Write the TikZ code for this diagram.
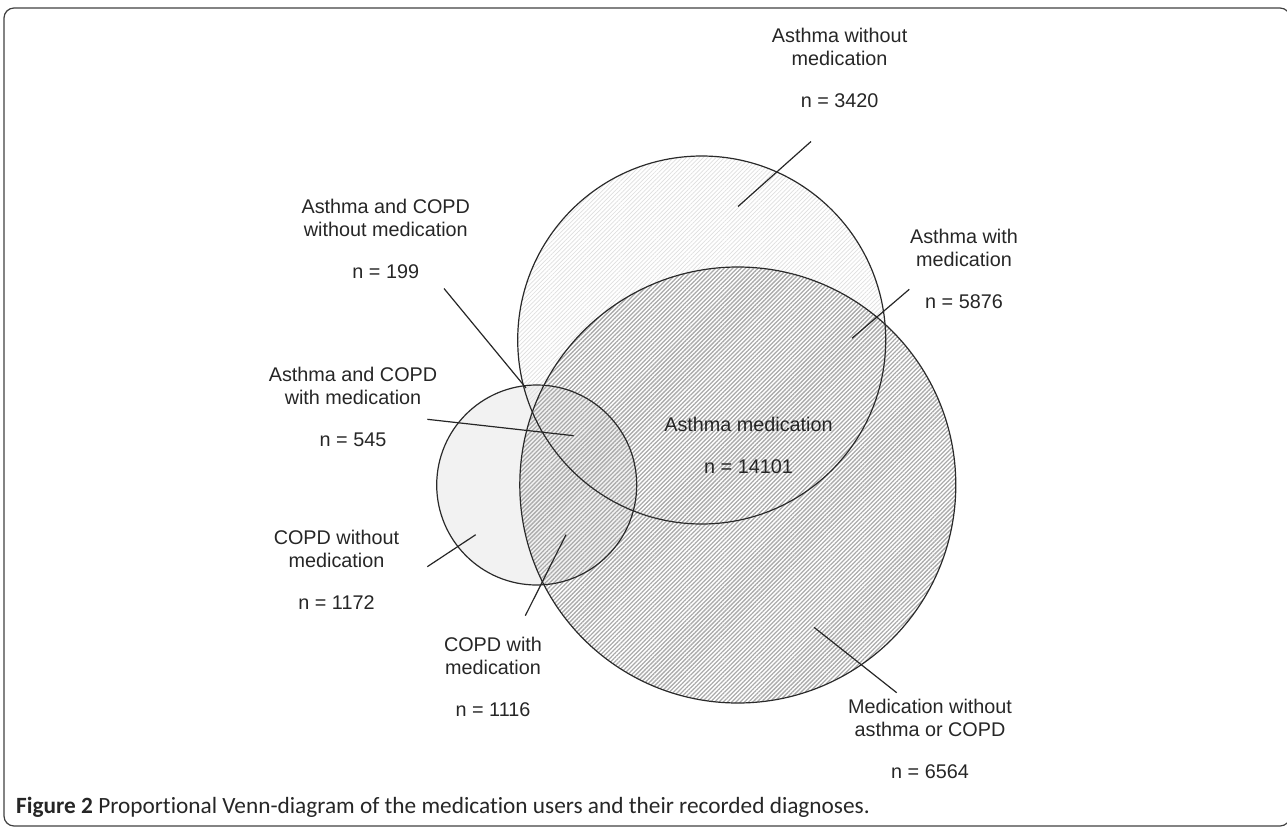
\documentclass[tikz,border=0pt]{standalone}
\usepackage{fontspec}
\setmainfont{Liberation Sans}
\newfontfamily\capfont[Ligatures={NoCommon}]{Carlito}
\usetikzlibrary{patterns.meta,backgrounds}
\definecolor{txt}{HTML}{262626}
\definecolor{outl}{HTML}{2A2A2A}
\begin{document}
\begin{tikzpicture}[x=1pt,y=-1pt,
  lbl/.style={align=center, inner sep=0pt, anchor=north, text=txt, font=\fontsize{19.8}{23}\selectfont},
  lead/.style={draw=black!85, line width=1.2pt},
  ring/.style={circle, draw=outl, line width=1.2pt, inner sep=0pt}]
\useasboundingbox (0,0) rectangle (1287,827);
\draw[draw=black!75, line width=1.2pt, rounded corners=10pt] (4,8) rectangle (1290,826);

% circles
\node[ring, minimum size=200pt] (copd) at (536.7,485) {};
\node[ring, minimum size=368pt] (asthma) at (701.7,340) {};
\node[ring, minimum size=436pt] (med) at (737.8,485) {};
\begin{pgfonlayer}{background}
  \fill[black!5] (copd.center) circle[radius=100pt];
  \fill[pattern={Lines[angle=45,distance=3pt,line width=0.7pt]}, pattern color=black!13] (asthma.center) circle[radius=184pt];
  \fill[pattern={Lines[angle=45,distance=3pt,line width=1.3pt]}, pattern color=black!33] (med.center) circle[radius=218pt];
\end{pgfonlayer}

% labels
\node[lbl] (t1) at (839.6,28.3) {Asthma without\\medication\\[19pt]n = 3420};
\node[lbl] (t2) at (385.8,198.8) {Asthma and COPD\\without medication\\[19pt]n = 199};
\node[lbl] (t3) at (964,229.3) {Asthma with\\medication\\[19pt]n = 5876};
\node[lbl] (t4) at (353,366.8) {Asthma and COPD\\with medication\\[19pt]n = 545};
\node[lbl] (t5) at (748.5,417.3) {Asthma medication\\[19pt]n = 14101};
\node[lbl] (t6) at (336.5,529.8) {COPD without\\medication\\[19pt]n = 1172};
\node[lbl] (t7) at (493,637.3) {COPD with\\medication\\[19pt]n = 1116};
\node[lbl] (t8) at (930,698.5) {Medication without\\asthma or COPD\\[19pt]n = 6564};

% leader lines
\coordinate (l1a) at (811,141.5);   \coordinate (l1b) at (738,206.5);
\coordinate (l2a) at (909.3,289.3); \coordinate (l2b) at (852,338.3);
\coordinate (l3a) at (444,288.5);   \coordinate (l3b) at (526,388);
\coordinate (l4a) at (427.3,419.3); \coordinate (l4b) at (573.7,435.7);
\coordinate (l5a) at (427.3,566.7); \coordinate (l5b) at (475.7,534.7);
\coordinate (l6a) at (566,534.7);   \coordinate (l6b) at (525.3,615.7);
\coordinate (l7a) at (814,627.3);   \coordinate (l7b) at (896.7,692.7);
\draw[lead] (l1a) -- (l1b);
\draw[lead] (l2a) -- (l2b);
\draw[lead] (l3a) -- (l3b);
\draw[lead] (l4a) -- (l4b);
\draw[lead] (l5a) -- (l5b);
\draw[lead] (l6a) -- (l6b);
\draw[lead] (l7a) -- (l7b);

% caption
\node[anchor=base west, inner sep=0pt, text=txt] (caption) at (16,813) {\capfont\fontsize{23.3}{27}\selectfont\textbf{Figure 2} Proportional Venn-diagram of the medication users and their recorded diagnoses.};
\end{tikzpicture}
\end{document}
